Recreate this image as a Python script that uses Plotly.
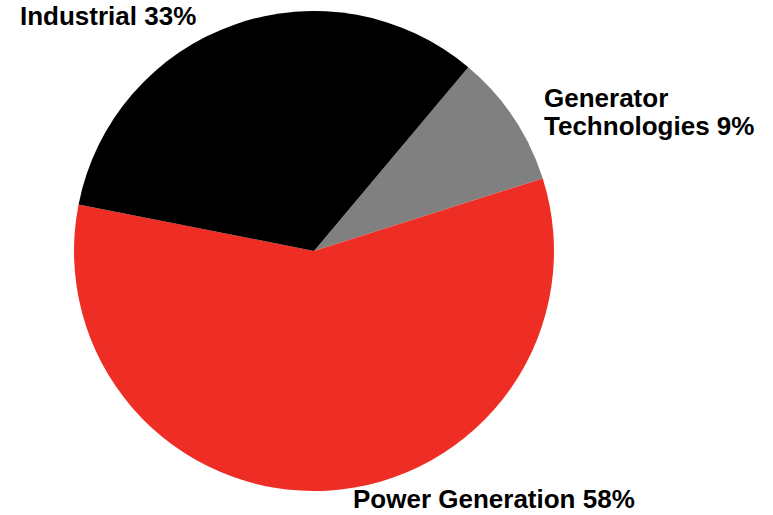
import plotly.graph_objects as go

labels = ["Generator Technologies", "Power Generation", "Industrial"]
values = [9, 58, 33]
colors = ["#808080", "#EE2E24", "#000000"]
label_lines = [["Generator", "Technologies 9%"], ["Power Generation 58%"], ["Industrial 33%"]]

W, H = 773, 515
cx, cy, r = 314, 251, 240

fig = go.Figure(go.Pie(
    labels=labels,
    values=values,
    sort=False,
    direction="clockwise",
    rotation=40,
    marker=dict(colors=colors, line=dict(width=0)),
    textinfo="none",
    hoverinfo="label+percent",
    showlegend=False,
    domain=dict(x=[(cx - r) / W, (cx + r) / W], y=[(H - cy - r) / H, (H - cy + r) / H]),
))

font = dict(family="Liberation Sans, Arial, sans-serif", size=26, color="#000000")
# (line text, left x px, y px, y anchor)
placements = [
    (label_lines[0][0], 543, 98, "middle"),
    (label_lines[0][1], 543, 126, "middle"),
    (label_lines[1][0], 352, 515, "bottom"),
    (label_lines[2][0], 19, 16, "middle"),
]
for txt, px, py, ya in placements:
    fig.add_annotation(
        text=f"<b>{txt}</b>", x=px / W, y=1 - py / H, xref="paper", yref="paper",
        xanchor="left", yanchor=ya, showarrow=False, font=font, borderpad=0,
    )

fig.update_layout(
    width=W, height=H,
    margin=dict(l=0, r=0, t=0, b=0),
    paper_bgcolor="white", plot_bgcolor="white",
)
fig.write_html(
    "out.html",
    config={"displayModeBar": False},
    post_script="document.body.style.margin='0';document.body.style.overflow='hidden';",
)
